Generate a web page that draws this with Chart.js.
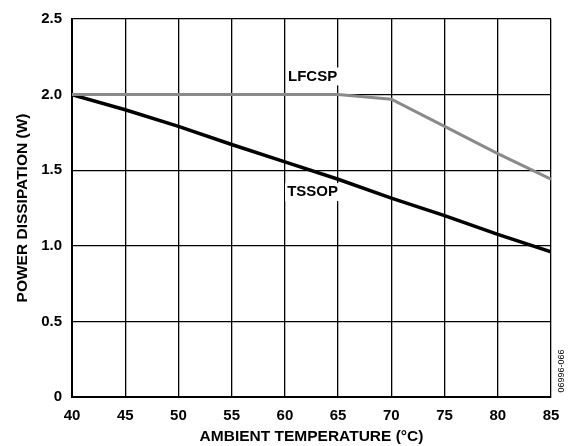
<!DOCTYPE html>
<html>
<head>
<meta charset="utf-8">
<script src="https://cdn.jsdelivr.net/npm/chart.js@4/dist/chart.umd.min.js"></script>
<style>
  html, body { margin: 0; padding: 0; background: #fff; }
  #wrap { width: 570px; height: 446px; }
</style>
</head>
<body>
<div id="wrap"><canvas id="chart" width="570" height="446"></canvas></div>
<script>
// ambient temperature (°C)
const temps = [40, 45, 50, 55, 60, 65, 70, 75, 80, 85];
// power dissipation (W)
const lfcsp = [2.0, 2.0, 2.0, 2.0, 2.0, 2.0, 1.97, 1.79, 1.61, 1.44];
const tssop = [2.0, 1.9, 1.79, 1.67, 1.555, 1.44, 1.315, 1.2, 1.075, 0.96];
const yTicks = [0, 0.5, 1.0, 1.5, 2.0, 2.5];

// curve labels: [text, x, y] in data units
const curveLabels = [
    ['LFCSP', 62.6, 2.12],
    ['TSSOP', 62.6, 1.355]
];

const FONT = '"Liberation Sans", Arial, Helvetica, sans-serif';

const labelPlugin = {
    id: 'curveLabels',
    afterDatasetsDraw(chart) {
        const ctx = chart.ctx;
        const xs = chart.scales.x, ys = chart.scales.y;
        ctx.save();
        ctx.font = 'bold 15px ' + FONT;
        ctx.textAlign = 'center';
        ctx.textBaseline = 'middle';
        curveLabels.forEach(([txt, vx, vy]) => {
            const px = xs.getPixelForValue(vx);
            const py = ys.getPixelForValue(vy);
            const w = ctx.measureText(txt).width;
            ctx.fillStyle = '#fff';
            ctx.fillRect(px - w / 2 - 2, py - 9, w + 4, 18);
            ctx.fillStyle = '#000';
            ctx.fillText(txt, px, py);
        });
        // figure number on the right edge
        ctx.font = '9px ' + FONT;
        ctx.translate(562, 371);
        ctx.rotate(-Math.PI / 2);
        ctx.fillText('06996-066', 0, 0);
        ctx.restore();
    }
};

new Chart(document.getElementById('chart'), {
    type: 'line',
    data: {
        datasets: [
            {
                label: 'LFCSP',
                data: temps.map((t, i) => ({ x: t, y: lfcsp[i] })),
                borderColor: '#8a8a8a',
                borderWidth: 3,
                pointRadius: 0,
                tension: 0
            },
            {
                label: 'TSSOP',
                data: temps.map((t, i) => ({ x: t, y: tssop[i] })),
                borderColor: '#000',
                borderWidth: 3.5,
                pointRadius: 0,
                tension: 0
            }
        ]
    },
    options: {
        responsive: false,
        animation: false,
        layout: { padding: { top: 15, right: 19, left: 0, bottom: 0 } },
        plugins: { legend: { display: false }, tooltip: { enabled: false } },
        scales: {
            x: {
                type: 'linear',
                min: 40, max: 85,
                afterBuildTicks: s => { s.ticks = temps.map(v => ({ value: v })); },
                afterFit: s => { s.height = 49; },
                grid: { color: '#000', lineWidth: 1.3, drawTicks: false },
                border: { color: '#000', width: 2 },
                ticks: {
                    color: '#000', padding: 10,
                    font: { family: FONT, size: 15, weight: 'bold' },
                    maxRotation: 0
                },
                title: {
                    display: true, text: 'AMBIENT TEMPERATURE (°C)', color: '#000',
                    font: { family: FONT, size: 15.5, weight: 'bold' },
                    padding: { top: 0, bottom: 0 }
                }
            },
            y: {
                min: 0, max: 2.5,
                afterBuildTicks: s => { s.ticks = yTicks.map(v => ({ value: v })); },
                afterFit: s => { s.width = 72; },
                grid: { color: '#000', lineWidth: 1.3, drawTicks: false },
                border: { color: '#000', width: 2 },
                ticks: {
                    color: '#000', padding: 10,
                    font: { family: FONT, size: 15, weight: 'bold' },
                    callback: v => v === 0 ? '0' : v.toFixed(1)
                },
                title: {
                    display: true, text: 'POWER DISSIPATION (W)', color: '#000',
                    font: { family: FONT, size: 15.5, weight: 'bold' },
                    padding: { top: 13, bottom: 0 }
                }
            }
        }
    },
    plugins: [labelPlugin]
});
</script>
</body>
</html>
